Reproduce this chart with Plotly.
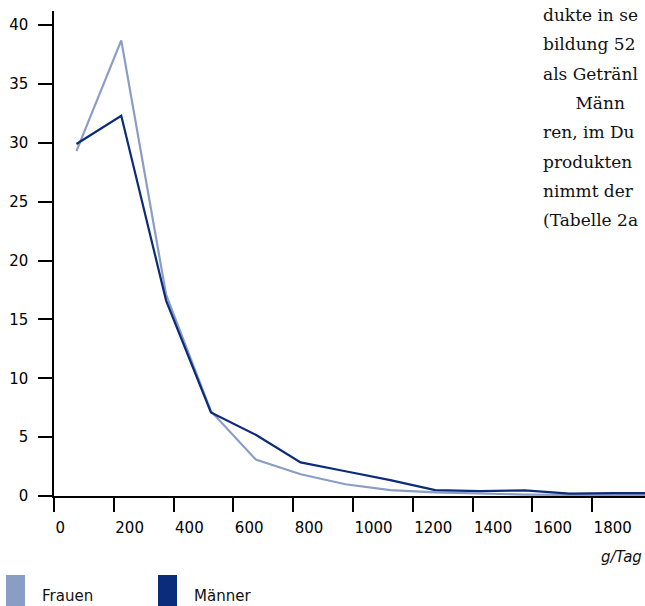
import plotly.graph_objects as go

# bin centres (g/Tag) and share of persons (%)
gramm_pro_tag = [75, 225, 375, 525, 675, 825, 975, 1125, 1275, 1425, 1575, 1725, 1875, 2025]
frauen = [29.3, 38.7, 17.1, 7.2, 3.1, 1.85, 1.0, 0.5, 0.3, 0.2, 0.12, 0.1, 0.1, 0.1]
maenner = [29.9, 32.3, 16.6, 7.1, 5.2, 2.85, 2.1, 1.35, 0.5, 0.42, 0.48, 0.2, 0.25, 0.25]

x_ticks = [0, 200, 400, 600, 800, 1000, 1200, 1400, 1600, 1800]
y_ticks = [0, 5, 10, 15, 20, 25, 30, 35, 40]

farbe_frauen = "#8a9dc4"
farbe_maenner = "#0b2c7a"

# fragment of the body text standing next to the chart on the page
seitentext = ["dukte in se", "bildung 52", "als Getränl", "      Männ",
              "ren, im Du", "produkten", "nimmt der", "(Tabelle 2a"]

W, H = 645, 606
L, R, T, B = 54, 0, 11, 110


def px(x):
    return (x - L) / (W - L - R)


def py(y):
    return (H - B - y) / (H - T - B)


fig = go.Figure()
fig.add_trace(go.Scatter(x=gramm_pro_tag, y=frauen, mode="lines", name="Frauen",
                         line=dict(color=farbe_frauen, width=2.2)))
fig.add_trace(go.Scatter(x=gramm_pro_tag, y=maenner, mode="lines", name="Männer",
                         line=dict(color=farbe_maenner, width=2.2)))

achse = dict(showgrid=False, zeroline=False, showline=True, linecolor="black", linewidth=1.5,
             ticks="outside", ticklen=14, tickwidth=1.5, tickcolor="black",
             tickfont=dict(family="DejaVu Sans", size=15, color="black"))

fig.update_xaxes(range=[0, 1977], tickvals=x_ticks, ticklabelposition="outside right",
                 ticklabelstandoff=17, **achse)
fig.update_yaxes(range=[0, 41.2], tickvals=y_ticks, ticklabelstandoff=7, **achse)

# legend drawn as coloured blocks with labels, as on the page
for x0, farbe, text, tx in [(6, farbe_frauen, "Frauen", 40), (158, farbe_maenner, "Männer", 192)]:
    fig.add_shape(type="rect", xref="paper", yref="paper", x0=px(x0), x1=px(x0 + 19),
                  y0=py(575), y1=py(640), fillcolor=farbe, line_width=0)
    fig.add_annotation(text=text, xref="paper", yref="paper", x=px(tx), y=py(596),
                       xanchor="left", yanchor="middle", showarrow=False,
                       font=dict(family="DejaVu Sans", size=15, color="#111"))

fig.add_annotation(text="<i>g/Tag</i>", xref="paper", yref="paper", x=px(599), y=py(557),
                   xanchor="left", yanchor="middle", showarrow=False,
                   font=dict(family="DejaVu Sans", size=15, color="#111"))

for i, zeile in enumerate(seitentext):
    fig.add_annotation(text=zeile.replace(" ", "&nbsp;"), xref="paper", yref="paper",
                       x=px(541), y=py(15 + i * 29.3), xanchor="left", yanchor="middle",
                       showarrow=False, font=dict(family="DejaVu Serif", size=17, color="#111"))

fig.update_layout(width=W, height=H, margin=dict(l=L, r=R, t=T, b=B),
                  plot_bgcolor="white", paper_bgcolor="white", showlegend=False)

# drop the default page margin so the figure sits flush with the window
fig.write_html("out.html", config={"displayModeBar": False},
               post_script="document.body.style.margin='0';")
